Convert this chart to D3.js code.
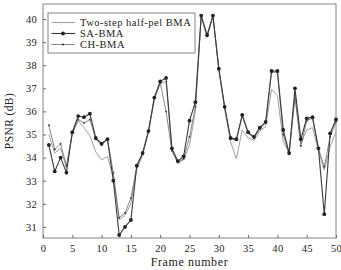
<!DOCTYPE html>
<html>
<head>
  <meta charset="utf-8" />
  <script src="https://d3js.org/d3.v7.min.js"></script>
  <style>
    body { margin: 0; padding: 0; background: #ffffff; }
    text { font-family: "Liberation Serif", "DejaVu Serif", serif; fill: #222; }
  </style>
</head>
<body>
  <svg id="chart" width="341" height="270"></svg>
  <script>
    // frame numbers 1..50
    const frames = d3.range(1, 51);
    const twoStep = [35.0, 34.2, 34.4, 33.55, 35.05, 35.6, 35.3, 34.95, 34.25, 33.9,
                     34.05, 33.15, 31.3, 31.5, 32.0, 33.5, 34.1, 35.1, 36.5, 37.2,
                     37.3, 34.3, 33.75, 33.9, 34.55, 36.0, 40.1, 39.2, 40.1, 37.8,
                     36.1, 34.7, 33.95, 35.2, 34.85, 34.75, 35.15, 35.35, 36.95, 36.7,
                     34.7, 34.2, 36.6, 34.6, 35.2, 35.3, 34.3, 33.45, 34.5, 35.1];
    const saBma = [34.55, 33.4, 34.0, 33.35, 35.1, 35.8, 35.75, 35.9, 34.85, 34.6,
                   34.8, 33.0, 30.65, 31.0, 31.3, 33.65, 34.2, 35.15, 36.6, 37.3,
                   37.45, 34.4, 33.85, 34.05, 35.6, 36.4, 40.15, 39.3, 40.15, 37.85,
                   36.2, 34.85, 34.8, 35.85, 35.1, 34.9, 35.3, 35.55, 37.75, 37.75,
                   35.2, 34.2, 37.0, 34.8, 35.7, 35.75, 34.4, 31.55, 35.05, 35.65];
    const chBma = [35.4, 34.35, 34.6, 33.65, 35.05, 35.65, 35.5, 35.65, 34.8, 34.55,
                   34.8, 33.35, 31.4, 31.6, 32.25, 33.6, 34.15, 35.15, 36.6, 37.25,
                   36.0, 34.3, 33.8, 33.95, 34.9, 36.2, 40.15, 39.25, 40.15, 37.85,
                   36.2, 34.8, 34.75, 35.8, 35.05, 34.85, 35.25, 35.5, 37.7, 37.7,
                   35.0, 34.15, 36.7, 34.5, 35.6, 35.7, 34.4, 33.6, 34.9, 35.55];
    const xTicks = d3.range(0, 51, 5);
    const yTicks = d3.range(31, 41);

    const svg = d3.select("#chart");
    const margin = { top: 4, right: 5, bottom: 32, left: 43 };
    const width = 341 - margin.left - margin.right;
    const height = 270 - margin.top - margin.bottom;
    const g = svg.append("g").attr("transform", `translate(${margin.left},${margin.top})`);

    const x = d3.scaleLinear().domain([0, 50]).range([0, width]);
    const y = d3.scaleLinear().domain([30.52, 40.65]).range([height, 0]);

    // axes
    const xAxis = g.append("g").attr("transform", `translate(0,${height})`)
      .call(d3.axisBottom(x).tickValues(xTicks).tickSizeInner(-3).tickSizeOuter(0).tickPadding(7));
    const yAxis = g.append("g")
      .call(d3.axisLeft(y).tickValues(yTicks).tickSizeInner(-3).tickSizeOuter(0).tickPadding(6));
    [xAxis, yAxis].forEach(a => {
      a.select(".domain").remove();
      a.selectAll("line").attr("stroke", "#666");
      a.selectAll("text").attr("font-size", 10.5).style("letter-spacing", "0.3px")
        .style("font-family", '"Liberation Serif", serif').attr("fill", "#333");
    });

    g.append("rect").attr("width", width).attr("height", height)
      .attr("fill", "none").attr("stroke", "#777").attr("stroke-width", 0.9);

    const line = vals => d3.line().x((d, i) => x(frames[i])).y(d => y(d))(vals);

    g.append("path").attr("d", line(twoStep)).attr("fill", "none")
      .attr("stroke", "#a0a0a0").attr("stroke-width", 1);
    g.append("path").attr("d", line(chBma)).attr("fill", "none")
      .attr("stroke", "#6a6a6a").attr("stroke-width", 0.8);
    g.append("path").attr("d", line(saBma)).attr("fill", "none")
      .attr("stroke", "#3a3a3a").attr("stroke-width", 1.1);

    g.selectAll(".ch").data(chBma).enter().append("circle")
      .attr("cx", (d, i) => x(frames[i])).attr("cy", d => y(d)).attr("r", 1)
      .attr("fill", "#444");
    g.selectAll(".sa").data(saBma).enter().append("circle")
      .attr("cx", (d, i) => x(frames[i])).attr("cy", d => y(d)).attr("r", 1.9)
      .attr("fill", "#222");

    // legend
    const leg = g.append("g").attr("transform", "translate(5,9)");
    leg.append("rect").attr("width", 147).attr("height", 40)
      .attr("fill", "#fff").attr("stroke", "#777").attr("stroke-width", 0.9);
    const legItems = [
      { name: "Two-step half-pel BMA", color: "#a0a0a0", w: 1, r: 0 },
      { name: "SA-BMA", color: "#3a3a3a", w: 1.1, r: 1.9 },
      { name: "CH-BMA", color: "#6a6a6a", w: 0.8, r: 1 }
    ];
    legItems.forEach((d, i) => {
      const yy = 9.5 + i * 11;
      leg.append("line").attr("x1", 3.5).attr("x2", 27).attr("y1", yy).attr("y2", yy)
        .attr("stroke", d.color).attr("stroke-width", d.w);
      if (d.r) leg.append("circle").attr("cx", 15).attr("cy", yy).attr("r", d.r).attr("fill", "#222");
      leg.append("text").attr("x", 32).attr("y", yy + 3.5).attr("font-size", 10.5)
        .style("letter-spacing", "0.5px").text(d.name);
    });

    svg.append("text").attr("x", margin.left + width / 2).attr("y", 266).attr("text-anchor", "middle")
      .attr("font-size", 12).style("letter-spacing", "0.6px").text("Frame number");
    svg.append("text").attr("transform", `translate(13,${margin.top + height / 2}) rotate(-90)`)
      .attr("text-anchor", "middle").attr("font-size", 11.5).style("letter-spacing", "0.4px").text("PSNR (dB)");
  </script>
</body>
</html>
